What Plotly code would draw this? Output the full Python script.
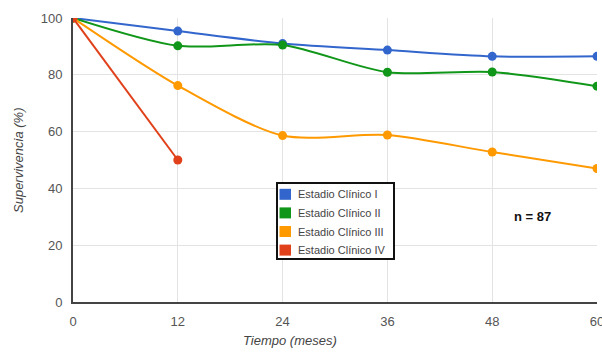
import plotly.graph_objects as go

meses = [0, 12, 24, 36, 48, 60]
estadio_i = [100, 95.4, 91.0, 88.7, 86.5, 86.5]
estadio_ii = [100, 90.2, 90.5, 80.9, 81.0, 76.0]
estadio_iii = [100, 76.2, 58.6, 58.8, 52.8, 47.0]
meses_iv = [0, 12]
estadio_iv = [100, 50.0]

nombres = ["Estadio Clínico I", "Estadio Clínico II", "Estadio Clínico III", "Estadio Clínico IV"]
colores = ["#3366cc", "#109618", "#ff9900", "#e0401a"]

W, H = 602, 352
ML, MR, MT, MB = 73, 5, 18, 50
PW, PH = W - ML - MR, H - MT - MB


def px(x):
    return (x - ML) / PW


def py(y):
    return (H - MB - y) / PH


fig = go.Figure()
series = [(meses, estadio_i), (meses, estadio_ii), (meses, estadio_iii), (meses_iv, estadio_iv)]
for (xs, ys), nombre, color in zip(series, nombres, colores):
    fig.add_trace(go.Scatter(
        x=xs, y=ys, mode="lines+markers", name=nombre,
        line=dict(color=color, width=2, shape="spline", smoothing=0.8),
        marker=dict(color=color, size=9),
        showlegend=False,
    ))

# legend box (drawn manually to match the reference layout)
fig.add_shape(type="rect", xref="paper", yref="paper",
              x0=px(277), x1=px(394), y0=py(183), y1=py(259),
              line=dict(color="#111", width=2), fillcolor="white", layer="above")
fila_y = [194.3, 212.9, 231.5, 250.1]
for nombre, color, yy in zip(nombres, colores, fila_y):
    fig.add_shape(type="rect", xref="paper", yref="paper",
                  x0=px(279.5), x1=px(291), y0=py(yy - 5.5), y1=py(yy + 5.5),
                  line=dict(width=0), fillcolor=color, layer="above")
    fig.add_annotation(x=px(296), y=py(yy), xref="paper", yref="paper",
                       xanchor="left", yanchor="middle", text=nombre, showarrow=False,
                       font=dict(size=11, color="#444", family="Liberation Sans, Arial"))

fig.add_annotation(x=px(532), y=py(216.5), xref="paper", yref="paper",
                   xanchor="center", yanchor="middle",
                   text="<b>n = 87</b>", showarrow=False,
                   font=dict(size=13, color="#111", family="Liberation Sans, Arial"))

fig.add_annotation(x=px(290), y=py(340), xref="paper", yref="paper",
                   xanchor="center", yanchor="middle",
                   text="<i>Tiempo (meses)</i>", showarrow=False,
                   font=dict(size=13, color="#444", family="Liberation Sans, Arial"))
fig.add_annotation(x=px(18), y=0.5, xref="paper", yref="paper",
                   xanchor="center", yanchor="middle",
                   text="<i>Supervivencia (%)</i>", showarrow=False, textangle=-90,
                   font=dict(size=13, color="#444", family="Liberation Sans, Arial"))

fig.update_layout(
    width=W, height=H,
    margin=dict(l=ML, r=MR, t=MT, b=MB),
    plot_bgcolor="white", paper_bgcolor="white",
    font=dict(family="Liberation Sans, Arial", color="#555", size=13),
    showlegend=False,
    xaxis=dict(range=[0, 60], tickvals=meses, ticktext=[str(m) for m in meses],
               showgrid=True, gridcolor="#e3e3e3", zeroline=False,
               showline=True, linecolor="#444", linewidth=2,
               ticks="", ticklabelstandoff=6, ticklabeloverflow="allow",
               automargin=False,
               tickfont=dict(size=13, color="#555")),
    yaxis=dict(range=[0, 100], tickvals=[0, 20, 40, 60, 80, 100],
               showgrid=True, gridcolor="#e3e3e3", zeroline=False,
               showline=True, linecolor="#444", linewidth=2,
               ticks="", ticklabelstandoff=6, automargin=False,
               tickfont=dict(size=13, color="#555")),
)

fig.write_html("out.html")
